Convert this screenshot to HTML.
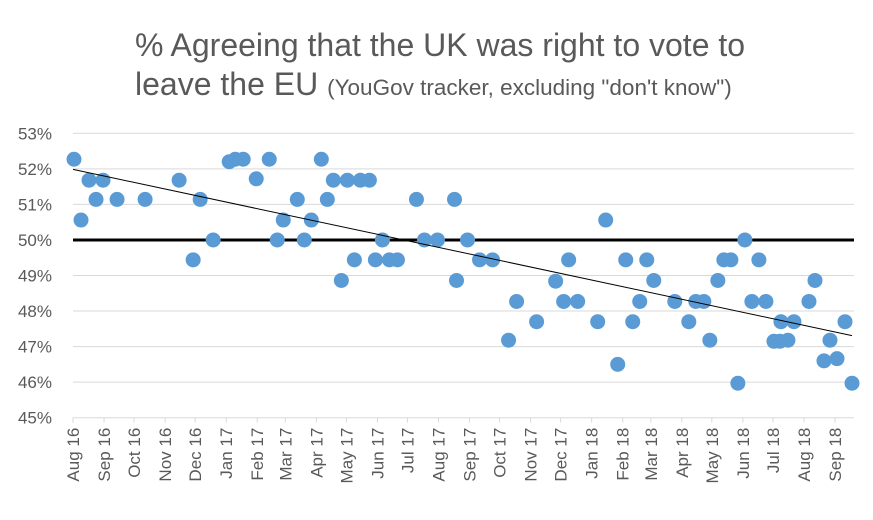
<!DOCTYPE html>
<html><head><meta charset="utf-8"><style>
body{margin:0;background:#fff;font-family:"Liberation Sans",sans-serif}
</style></head><body>
<svg width="873" height="515" xmlns="http://www.w3.org/2000/svg" id="c">
<text x="440" y="56" text-anchor="middle" font-size="32" fill="#595959">% Agreeing that the UK was right to vote to</text>
<text x="135" y="95" text-anchor="start" font-size="32" fill="#595959">leave the EU <tspan font-size="22.5">(YouGov tracker, excluding "don't know")</tspan></text>
<g id="grid"></g><g id="ax"></g><g id="marks"></g>
</svg>
<script>
const yTicks=[45,46,47,48,49,50,51,52,53];
const monthLabels=["Aug 16","Sep 16","Oct 16","Nov 16","Dec 16","Jan 17","Feb 17","Mar 17","Apr 17","May 17","Jun 17","Jul 17","Aug 17","Sep 17","Oct 17","Nov 17","Dec 17","Jan 18","Feb 18","Mar 18","Apr 18","May 18","Jun 18","Jul 18","Aug 18","Sep 18"];
const monthDays=[0,31,61,92,122,153,184,212,243,273,304,334,365,396,426,457,487,518,549,577,608,638,669,699,730,761];
const dayValues=[1,8,16,23,30,44,72,106,120,127,140,156,162,170,183,196,204,210,224,231,238,248,254,260,268,274,281,287,296,302,309,316,324,343,351,364,381,383,394,406,419,435,443,463,482,490,495,504,524,532,544,552,559,566,573,580,601,615,622,630,636,644,650,657,664,671,678,685,692,700,707,706,714,720,735,741,750,756,763,771,778]; 
const pctValues=[52.27,50.56,51.68,51.14,51.68,51.14,51.14,51.68,49.44,51.14,50.0,52.2,52.27,52.27,51.72,52.27,50.0,50.56,51.14,50.0,50.56,52.27,51.14,51.68,48.86,51.68,49.44,51.68,51.68,49.44,50.0,49.44,49.44,51.14,50.0,50.0,51.14,48.86,50.0,49.44,49.44,47.18,48.27,47.7,48.84,48.27,49.44,48.27,47.7,50.56,46.5,49.44,47.7,48.27,49.44,48.86,48.27,47.7,48.27,48.27,47.18,48.86,49.44,49.44,45.97,50.0,48.27,49.44,48.27,47.15,47.7,47.15,47.18,47.7,48.27,48.86,46.6,47.18,46.66,47.7,45.97];
const NS="http://www.w3.org/2000/svg";
const X0=73,PXD=(835-73)/761,XEND=854;
const xs=d=>X0+d*PXD;
const ys=v=>133.3+(53-v)*35.55;
function mk(t,a,p){const e=document.createElementNS(NS,t);for(const k in a)e.setAttribute(k,a[k]);p.appendChild(e);return e;}
const grid=document.getElementById('grid'),ax=document.getElementById('ax'),marks=document.getElementById('marks');
yTicks.forEach(v=>{
 const l=mk('line',{x1:X0,x2:XEND,y1:ys(v),y2:ys(v),stroke:'#d9d9d9','stroke-width':1},grid);
 
 
 const t=mk('text',{x:52,y:ys(v)+6,'text-anchor':'end','font-size':17,fill:'#595959'},ax);
 t.textContent=v+'%';
 
 
});
monthLabels.forEach((m,i)=>{
 const x=xs(monthDays[i]);
 const tk=mk('line',{x1:x,x2:x,y1:ys(45),y2:ys(45)+5,stroke:'#d9d9d9'},ax);
 
 
 const t=mk('text',{x:0,y:0,'text-anchor':'end','font-size':17,fill:'#595959',transform:`translate(${x+6},${ys(45)+10}) rotate(-90)`},ax);
 t.textContent=m;
 
 
});
const ref=mk('line',{x1:X0,x2:XEND,y1:ys(50),y2:ys(50),stroke:'#000','stroke-width':3},marks);


dayValues.forEach((d,i)=>{
 const c=mk('circle',{cx:xs(d),cy:ys(pctValues[i]),r:7.5,fill:'#5b9bd5'},marks);
 
 
});
const n=dayValues.length;let sx=0,sy=0,sxx=0,sxy=0;
dayValues.forEach((d,i)=>{sx+=d;sy+=pctValues[i];sxx+=d*d;sxy+=d*pctValues[i];});
const b=(n*sxy-sx*sy)/(n*sxx-sx*sx),a=(sy-b*sx)/n;
const d0=0,d1=dayValues[n-1];
const tr=mk('line',{x1:xs(d0),y1:ys(a+b*d0),x2:xs(d1),y2:ys(a+b*d1),stroke:'#000','stroke-width':1},marks);


</script>
</body></html>
